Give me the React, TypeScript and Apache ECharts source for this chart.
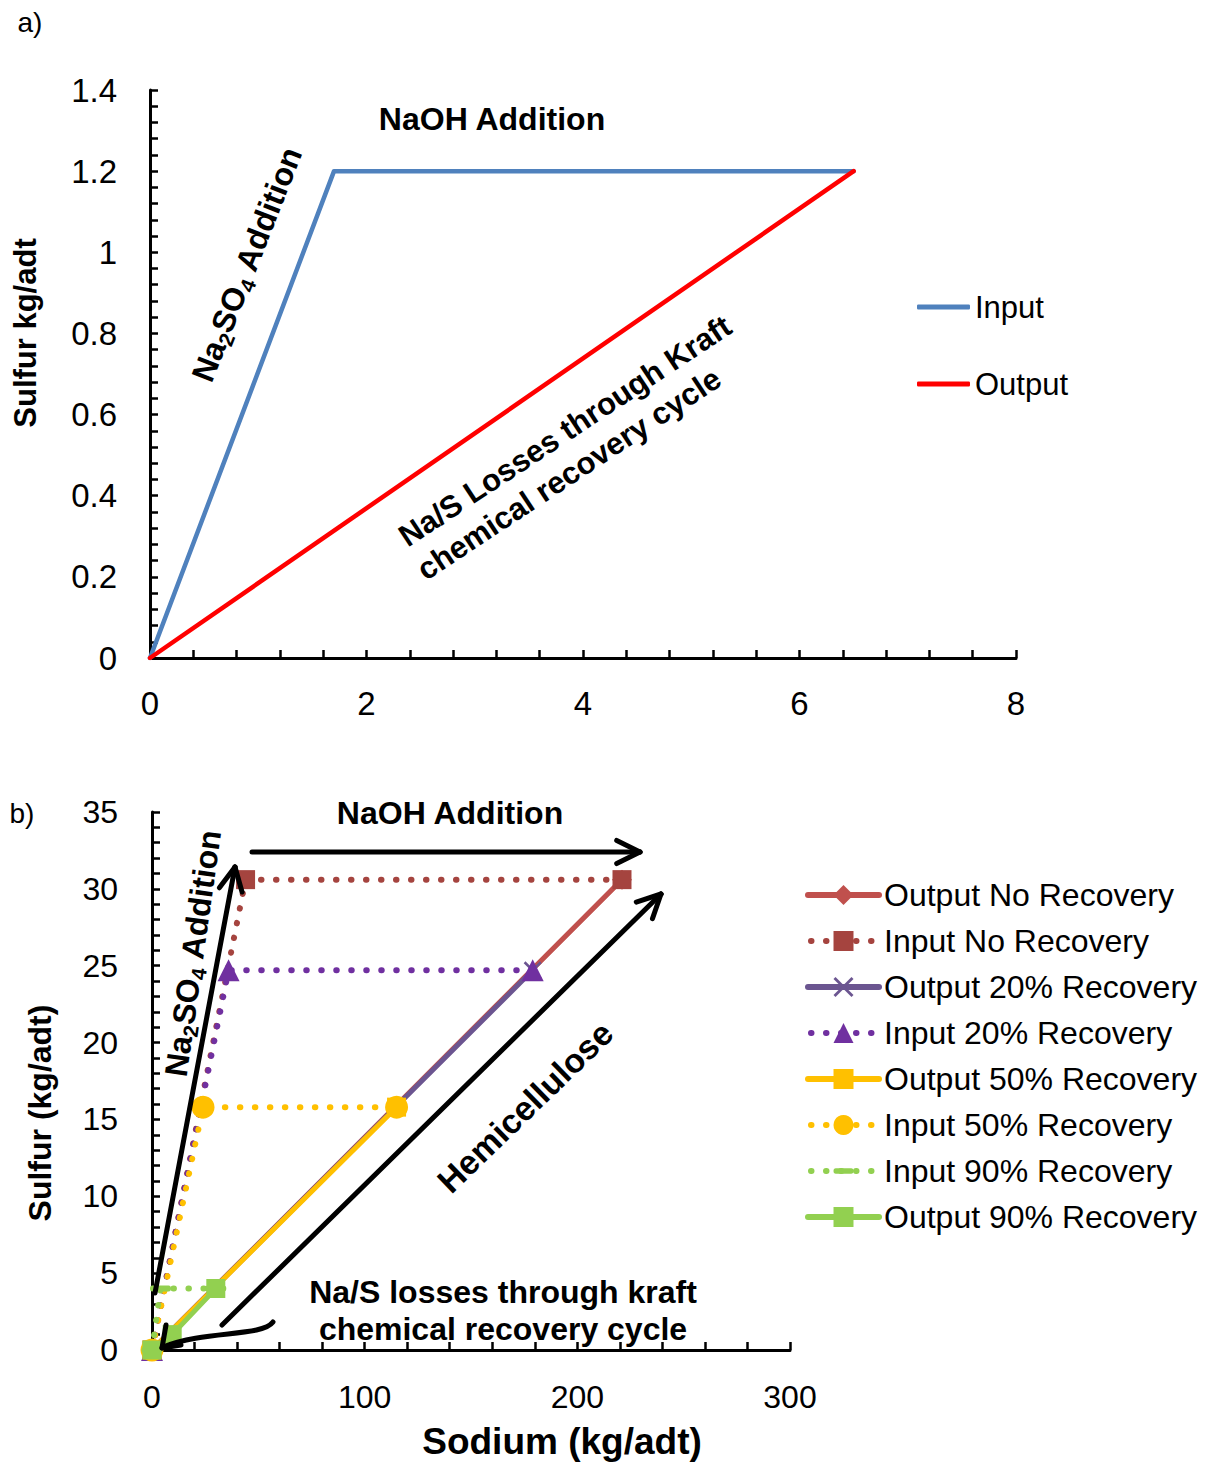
import React, { useEffect, useRef } from "react";
import * as echarts from "echarts";

const FONT = "'Liberation Sans', Arial, Helvetica, sans-serif";

// ---------- Panel a) data ----------
const aInputSodium = [0, 1.7, 6.5];
const aInputSulfur = [0, 1.2, 1.2];
const aOutputSodium = [0, 6.5];
const aOutputSulfur = [0, 1.2];
const aNames = ["Input", "Output"];

// ---------- Panel b) data ----------
const bNames = [
  "Output No Recovery",
  "Input No Recovery",
  "Output 20% Recovery",
  "Input 20% Recovery",
  "Output 50% Recovery",
  "Input 50% Recovery",
  "Input 90% Recovery",
  "Output 90% Recovery",
];
const outNoNa = [0, 221];
const outNoS = [0, 30.6];
const inNoNa = [0, 44, 221];
const inNoS = [0, 30.6, 30.6];
const out20Na = [0, 179];
const out20S = [0, 24.7];
const in20Na = [0, 36, 179];
const in20S = [0, 24.7, 24.7];
const out50Na = [0, 115];
const out50S = [0, 15.8];
const in50Na = [0, 24, 115];
const in50S = [0, 15.8, 15.8];
const in90Na = [0, 4, 30];
const in90S = [0, 4, 4];
const out90Na = [0, 9.5, 30];
const out90S = [0, 1.0, 4];

const zip = (xs: number[], ys: number[]) => xs.map((x, i) => [x, ys[i]]);

const DOT = { type: [0.5, 14.5] as any, cap: "round" as const, width: 6 };
const X_PATH =
  "path://M0,1 L1,0 L5,4 L9,0 L10,1 L6,5 L10,9 L9,10 L5,6 L1,10 L0,9 L4,5 Z";
// capsule-like dash inside a square bounding box (degenerate corners keep the box square)
const DASH_PATH =
  "path://M0,0 L0,0 Z M2,6.5 L19,6.5 A2.5,2.5 0 0 1 19,11.5 L2,11.5 A2.5,2.5 0 0 1 2,6.5 Z M21,18 L21,18 Z";

function arrowEls(x1: number, y1: number, x2: number, y2: number, head = 26, spread = 0.46, w = 5) {
  const ang = Math.atan2(y2 - y1, x2 - x1);
  const hx1 = x2 - head * Math.cos(ang - spread);
  const hy1 = y2 - head * Math.sin(ang - spread);
  const hx2 = x2 - head * Math.cos(ang + spread);
  const hy2 = y2 - head * Math.sin(ang + spread);
  const st = { stroke: "#000", lineWidth: w, lineCap: "round" };
  return [
    { type: "line", z: 100, shape: { x1, y1, x2, y2 }, style: st },
    { type: "line", z: 100, shape: { x1: x2, y1: y2, x2: hx1, y2: hy1 }, style: st },
    { type: "line", z: 100, shape: { x1: x2, y1: y2, x2: hx2, y2: hy2 }, style: st },
  ];
}

function txt(text: string, x: number, y: number, size: number, bold = true, rotDeg = 0, extra: any = {}) {
  return {
    type: "text",
    z: 110,
    x,
    y,
    rotation: (rotDeg * Math.PI) / 180,
    style: {
      text,
      fontSize: size,
      fontWeight: bold ? "bold" : "normal",
      fontFamily: FONT,
      fill: "#000",
      align: "center",
      verticalAlign: "middle",
      ...extra,
    },
  };
}

function subText(x: number, y: number, size: number, rotDeg: number) {
  const ss = Math.round(size * 0.65);
  return {
    type: "text",
    z: 110,
    x,
    y,
    rotation: (rotDeg * Math.PI) / 180,
    style: {
      text: "{a|Na}{b|2}{a|SO}{b|4}{a| Addition}",
      align: "center",
      verticalAlign: "middle",
      fill: "#000",
      rich: {
        a: { fontSize: size, fontWeight: "bold", fontFamily: FONT, fill: "#000", lineHeight: size + 4 },
        b: {
          fontSize: ss,
          fontWeight: "bold",
          fontFamily: FONT,
          fill: "#000",
          lineHeight: ss,
          padding: [size + 6 - ss, 0, 0, 0],
        },
      },
    },
  };
}

function axisCommon(min: number, max: number, interval: number, labelMargin: number, fs: number) {
  return {
    type: "value",
    min,
    max,
    interval,
    splitLine: { show: false },
    axisLine: { show: true, onZero: false, lineStyle: { color: "#000", width: 3 } },
    axisTick: { show: true, inside: true, length: 8, lineStyle: { color: "#000", width: 2.5 } },
    minorTick: { show: true, splitNumber: 5, length: 8, lineStyle: { color: "#000", width: 2.5 } },
    minorSplitLine: { show: false },
    axisLabel: { fontSize: fs, color: "#000", fontFamily: FONT, margin: labelMargin },
  };
}

export default function App() {
  const ref = useRef<HTMLDivElement>(null);

  useEffect(() => {
    if (!ref.current) return;
    const chart = echarts.init(ref.current, undefined, { renderer: "svg" });

    const SOLID_W = 5;
    const lineSolid = (color: string) => ({ color, width: SOLID_W, cap: "round" as const });

    const bColors = ["#C0504D", "#A5443F", "#6B5590", "#7030A0", "#FFC000", "#FFC000", "#92D050", "#92D050"];
    const bDotted = [false, true, false, true, false, true, true, false];

    const series: any[] = [
      {
        name: aNames[0],
        type: "line",
        xAxisIndex: 0,
        yAxisIndex: 0,
        data: zip(aInputSodium, aInputSulfur),
        symbol: "none",
        lineStyle: { color: "#4F81BD", width: 4.5, cap: "round", join: "round" },
        itemStyle: { color: "#4F81BD" },
      },
      {
        name: aNames[1],
        type: "line",
        xAxisIndex: 0,
        yAxisIndex: 0,
        data: zip(aOutputSodium, aOutputSulfur),
        symbol: "none",
        lineStyle: { color: "#FF0000", width: 4.5, cap: "round" },
        itemStyle: { color: "#FF0000" },
      },
      {
        name: bNames[0],
        type: "line",
        xAxisIndex: 1,
        yAxisIndex: 1,
        data: zip(outNoNa, outNoS),
        symbol: "diamond",
        symbolSize: 20,
        lineStyle: lineSolid(bColors[0]),
        itemStyle: { color: bColors[0] },
      },
      {
        name: bNames[1],
        type: "line",
        xAxisIndex: 1,
        yAxisIndex: 1,
        data: zip(inNoNa, inNoS),
        symbol: "rect",
        symbolSize: 19,
        lineStyle: { color: bColors[1], ...DOT },
        itemStyle: { color: bColors[1] },
      },
      {
        name: bNames[2],
        type: "line",
        xAxisIndex: 1,
        yAxisIndex: 1,
        data: zip(out20Na, out20S),
        symbol: X_PATH,
        symbolSize: 18,
        lineStyle: lineSolid(bColors[2]),
        itemStyle: { color: bColors[2] },
      },
      {
        name: bNames[3],
        type: "line",
        xAxisIndex: 1,
        yAxisIndex: 1,
        data: zip(in20Na, in20S),
        symbol: "triangle",
        symbolSize: 22,
        lineStyle: { color: bColors[3], ...DOT },
        itemStyle: { color: bColors[3] },
      },
      {
        name: bNames[4],
        type: "line",
        xAxisIndex: 1,
        yAxisIndex: 1,
        data: zip(out50Na, out50S),
        symbol: "rect",
        symbolSize: 19,
        lineStyle: lineSolid(bColors[4]),
        itemStyle: { color: bColors[4] },
      },
      {
        name: bNames[5],
        type: "line",
        xAxisIndex: 1,
        yAxisIndex: 1,
        data: zip(in50Na, in50S),
        symbol: "circle",
        symbolSize: 23,
        lineStyle: { color: bColors[5], ...DOT },
        itemStyle: { color: bColors[5] },
      },
      {
        name: bNames[6],
        type: "line",
        xAxisIndex: 1,
        yAxisIndex: 1,
        data: zip(in90Na, in90S),
        symbol: DASH_PATH,
        symbolSize: 21,
        lineStyle: { color: bColors[6], ...DOT },
        itemStyle: { color: bColors[6] },
      },
      {
        name: bNames[7],
        type: "line",
        xAxisIndex: 1,
        yAxisIndex: 1,
        data: zip(out90Na, out90S),
        symbol: "rect",
        symbolSize: 19,
        lineStyle: lineSolid(bColors[7]),
        itemStyle: { color: bColors[7] },
      },
    ];

    const graphic: any[] = [
      txt("a)", 30, 22, 28, false),
      txt("b)", 22, 813, 28, false),
      // panel a annotations
      txt("Sulfur kg/adt", 25, 333, 31, true, 90),
      txt("NaOH Addition", 492, 119, 32, true),
      subText(247, 264, 32, 68.5),
      txt("Na/S Losses through Kraft", 565, 431, 31, true, 33.5),
      txt("chemical recovery cycle", 569, 474, 31, true, 33.5),
      // panel b annotations
      txt("Sulfur (kg/adt)", 40, 1113, 32, true, 90),
      txt("Sodium (kg/adt)", 562, 1441, 37, true),
      txt("NaOH Addition", 450, 813, 32, true),
      subText(193, 953, 32, 82),
      txt("Hemicellulose", 525, 1107, 34, true, 44),
      txt("Na/S losses through kraft", 503, 1292, 32, true),
      txt("chemical recovery cycle", 503, 1329, 32, true),
      ...arrowEls(252, 852, 640, 852),
      ...arrowEls(155, 1293, 235, 867),
      ...arrowEls(222, 1325, 661, 894),
      {
        type: "bezierCurve",
        z: 100,
        shape: { x1: 273, y1: 1322, cpx1: 262, cpy1: 1337, cpx2: 205, cpy2: 1330, x2: 163, y2: 1347 },
        style: { stroke: "#000", lineWidth: 5, fill: null, lineCap: "round" },
      },
      { type: "line", z: 100, shape: { x1: 162, y1: 1348, x2: 166, y2: 1325 }, style: { stroke: "#000", lineWidth: 5, lineCap: "round" } },
      { type: "line", z: 100, shape: { x1: 162, y1: 1348, x2: 181, y2: 1345 }, style: { stroke: "#000", lineWidth: 5, lineCap: "round" } },
    ];

    const bLegendData = bNames.map((name, i) => ({
      name,
      lineStyle: bDotted[i]
        ? { color: bColors[i], width: 6, type: [0.5, 14.5], cap: "round", dashOffset: -3 }
        : { color: bColors[i], width: 6, type: "solid", cap: "round" },
    }));

    chart.setOption({
      animation: false,
      backgroundColor: "#fff",
      grid: [
        { left: 150, top: 90, width: 866, height: 568 },
        { left: 152, top: 812, width: 638, height: 538 },
      ],
      xAxis: [
        { gridIndex: 0, ...axisCommon(0, 8, 2, 29, 33) },
        { gridIndex: 1, ...axisCommon(0, 300, 100, 31, 32) },
      ],
      yAxis: [
        { gridIndex: 0, ...axisCommon(0, 1.4, 0.2, 33, 33) },
        { gridIndex: 1, ...axisCommon(0, 35, 5, 34, 32) },
      ],
      legend: [
        {
          data: aNames,
          left: 917,
          top: 290,
          padding: 0,
          orient: "vertical",
          icon: "roundRect",
          itemWidth: 53,
          itemHeight: 5,
          itemGap: 43,
          selectedMode: false,
          textStyle: { fontSize: 31, color: "#000", fontFamily: FONT, lineHeight: 34 },
        },
        {
          data: bLegendData,
          left: 805,
          top: 877,
          padding: 0,
          orient: "vertical",
          itemWidth: 71,
          itemHeight: 25,
          itemGap: 10,
          selectedMode: false,
          textStyle: { fontSize: 32, color: "#000", fontFamily: FONT, lineHeight: 36 },
        },
      ],
      series,
      graphic,
    });

    return () => chart.dispose();
  }, []);

  return (
    <div
      ref={ref}
      style={{ position: "absolute", left: 0, top: 0, width: 1207, height: 1462, background: "#fff" }}
    />
  );
}
